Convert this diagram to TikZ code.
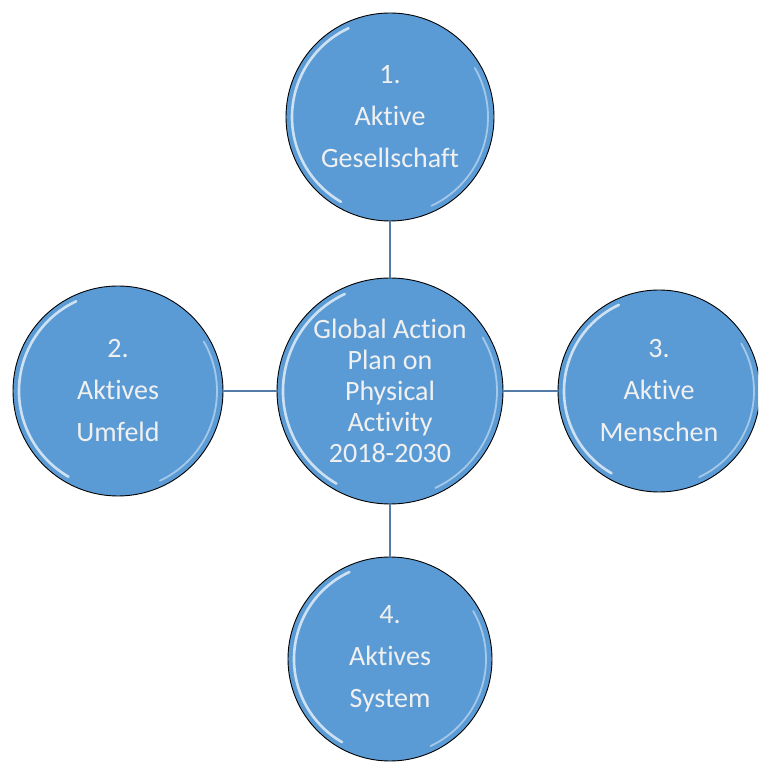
\documentclass[tikz,border=0pt]{standalone}
\usepackage{fontspec}
\setmainfont{Carlito}[Ligatures=NoCommon]
\usetikzlibrary{positioning}

\definecolor{bubblefill}{RGB}{91,155,213}
\definecolor{linkcol}{RGB}{84,124,168}

\tikzset{
	bubble/.style={circle, draw=black, line width=0.9pt, fill=bubblefill,
		inner sep=0pt, text=white!94!black, align=center,
		font=\fontsize{28}{42}\selectfont},
	hub/.style={bubble, font=\fontsize{28}{31}\selectfont},
	link/.style={draw=linkcol, line width=1.6pt},
	shine/.style={draw=white, line width=2.6pt, opacity=0.7, line cap=round},
	glow/.style={draw=white, line width=1.8pt, opacity=0.45, line cap=round}
}

\begin{document}
\begin{tikzpicture}[x=1pt,y=1pt]
		\useasboundingbox (0,0) rectangle (758,762);
		\clip (0,0) rectangle (758,762);

		\draw (390,371) node [hub, minimum size=226pt] (gap) {Global Action\\Plan on\\Physical\\Activity\\2018-2030};
		\draw (390,645) node [bubble, minimum size=208pt] (s1) {1.\\Aktive\\Gesellschaft};
		\draw (118,371) node [bubble, minimum size=210pt] (s2) {2.\\Aktives\\Umfeld};
		\draw (659,371) node [bubble, minimum size=202pt] (s3) {3.\\Aktive\\Menschen};
		\draw (390,103) node [bubble, minimum size=204pt] (s4) {4.\\Aktives\\System};

		\draw [link]
			(gap) edge (s1)
			(gap) edge (s2)
			(gap) edge (s3)
			(gap) edge (s4)
		;

		% bevel highlights
		\foreach \n/\r in {gap/113,s1/104,s2/105,s3/101,s4/102} {
			\draw [shine] (\n.center) ++(115:\r-6) arc [start angle=115, end angle=240, radius=\r-6];
			\draw [glow] (\n.center) ++(-65:\r-6) arc [start angle=-65, end angle=30, radius=\r-6];
		}
	\end{tikzpicture}
\end{document}
